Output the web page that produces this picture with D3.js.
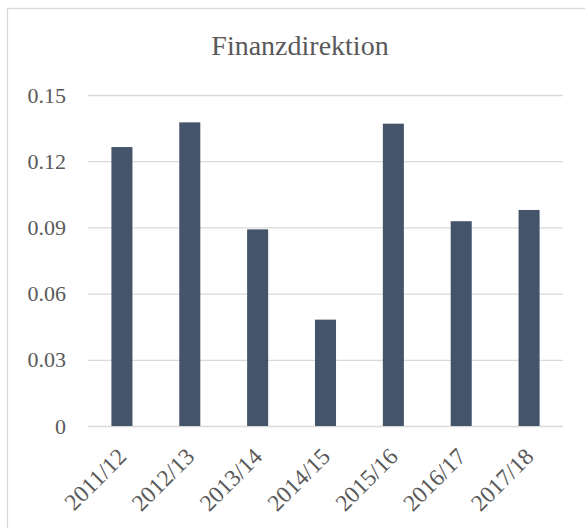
<!DOCTYPE html>
<html>
<head>
<meta charset="utf-8">
<script src="https://cdn.jsdelivr.net/npm/d3@7"></script>
<style>
  body { margin: 0; background: #fff; }
  svg text { font-family: "Liberation Serif", "Times New Roman", serif; fill: #595959; }
</style>
</head>
<body>
<svg id="chart"></svg>
<script>
'use strict';

// chart data
var categories = ['2011/12', '2012/13', '2013/14', '2014/15', '2015/16', '2016/17', '2017/18'];
var values = [0.1264, 0.1376, 0.0891, 0.0482, 0.1370, 0.0928, 0.0979];
var yTicks = [0, 0.03, 0.06, 0.09, 0.12, 0.15];
var title = 'Finanzdirektion';

var width = 585, height = 528;

var svg = d3.select('#chart')
	.attr('width', width)
	.attr('height', height);

// outer chart border (cut off at right/bottom like the reference)
svg.append('rect')
	.attr('x', 7.5)
	.attr('y', 8.5)
	.attr('width', 600)
	.attr('height', 600)
	.attr('fill', 'none')
	.attr('stroke', '#d9d9d9')
	.attr('stroke-width', 1.3);

// scales
var xScale = d3.scaleBand()
	.domain(categories)
	.range([88, 563])
	.paddingInner(0.69)
	.paddingOuter(0.345);
var yScale = d3.scaleLinear()
	.domain([0, 0.15])
	.range([426, 95]);

// y grid
var yGrid = d3.axisLeft(yScale)
	.tickValues(yTicks)
	.tickSize(-(563 - 88))
	.tickFormat('');
svg.append('g')
	.attr('class', 'y-grid')
	.attr('transform', 'translate(88,0)')
	.call(yGrid)
	.call(function(g) {
		g.select('.domain').remove();
		g.selectAll('line').attr('stroke', '#d9d9d9').attr('stroke-width', 1.3);
	});

// y axis labels
var yAxis = d3.axisLeft(yScale)
	.tickValues(yTicks)
	.tickSize(0)
	.tickPadding(22)
	.tickFormat(function(d) { return d === 0 ? '0' : d3.format('.2f')(d); });
svg.append('g')
	.attr('class', 'y-axis')
	.attr('transform', 'translate(88,0)')
	.call(yAxis)
	.call(function(g) {
		g.select('.domain').remove();
		g.selectAll('text')
			.attr('font-family', null)
			.style('font-size', '22px')
			.attr('dy', '0.32em');
	});

// bars
svg.append('g')
	.attr('class', 'data')
	.selectAll('rect').data(values)
	.enter()
	.append('rect')
	.attr('x', function(d, i) { return xScale(categories[i]); })
	.attr('y', function(d) { return yScale(d); })
	.attr('width', xScale.bandwidth())
	.attr('height', function(d) { return yScale(0) - yScale(d); })
	.attr('fill', '#44546a');

// x axis labels, rotated
var xAxis = d3.axisBottom(xScale).tickSize(0).tickPadding(0);
svg.append('g')
	.attr('class', 'x-axis')
	.attr('transform', 'translate(0,426)')
	.call(xAxis)
	.call(function(g) {
		g.select('.domain').remove();
		g.selectAll('text')
			.attr('font-family', null)
			.style('font-size', '23.5px')
			.attr('text-anchor', 'end')
			.attr('dy', null)
			.attr('y', 0)
			.attr('transform', 'translate(6,32) rotate(-45)');
	});

// title
svg.append('text')
	.attr('x', 300)
	.attr('y', 55)
	.attr('text-anchor', 'middle')
	.style('font-size', '28px')
	.text(title);
</script>
</body>
</html>
